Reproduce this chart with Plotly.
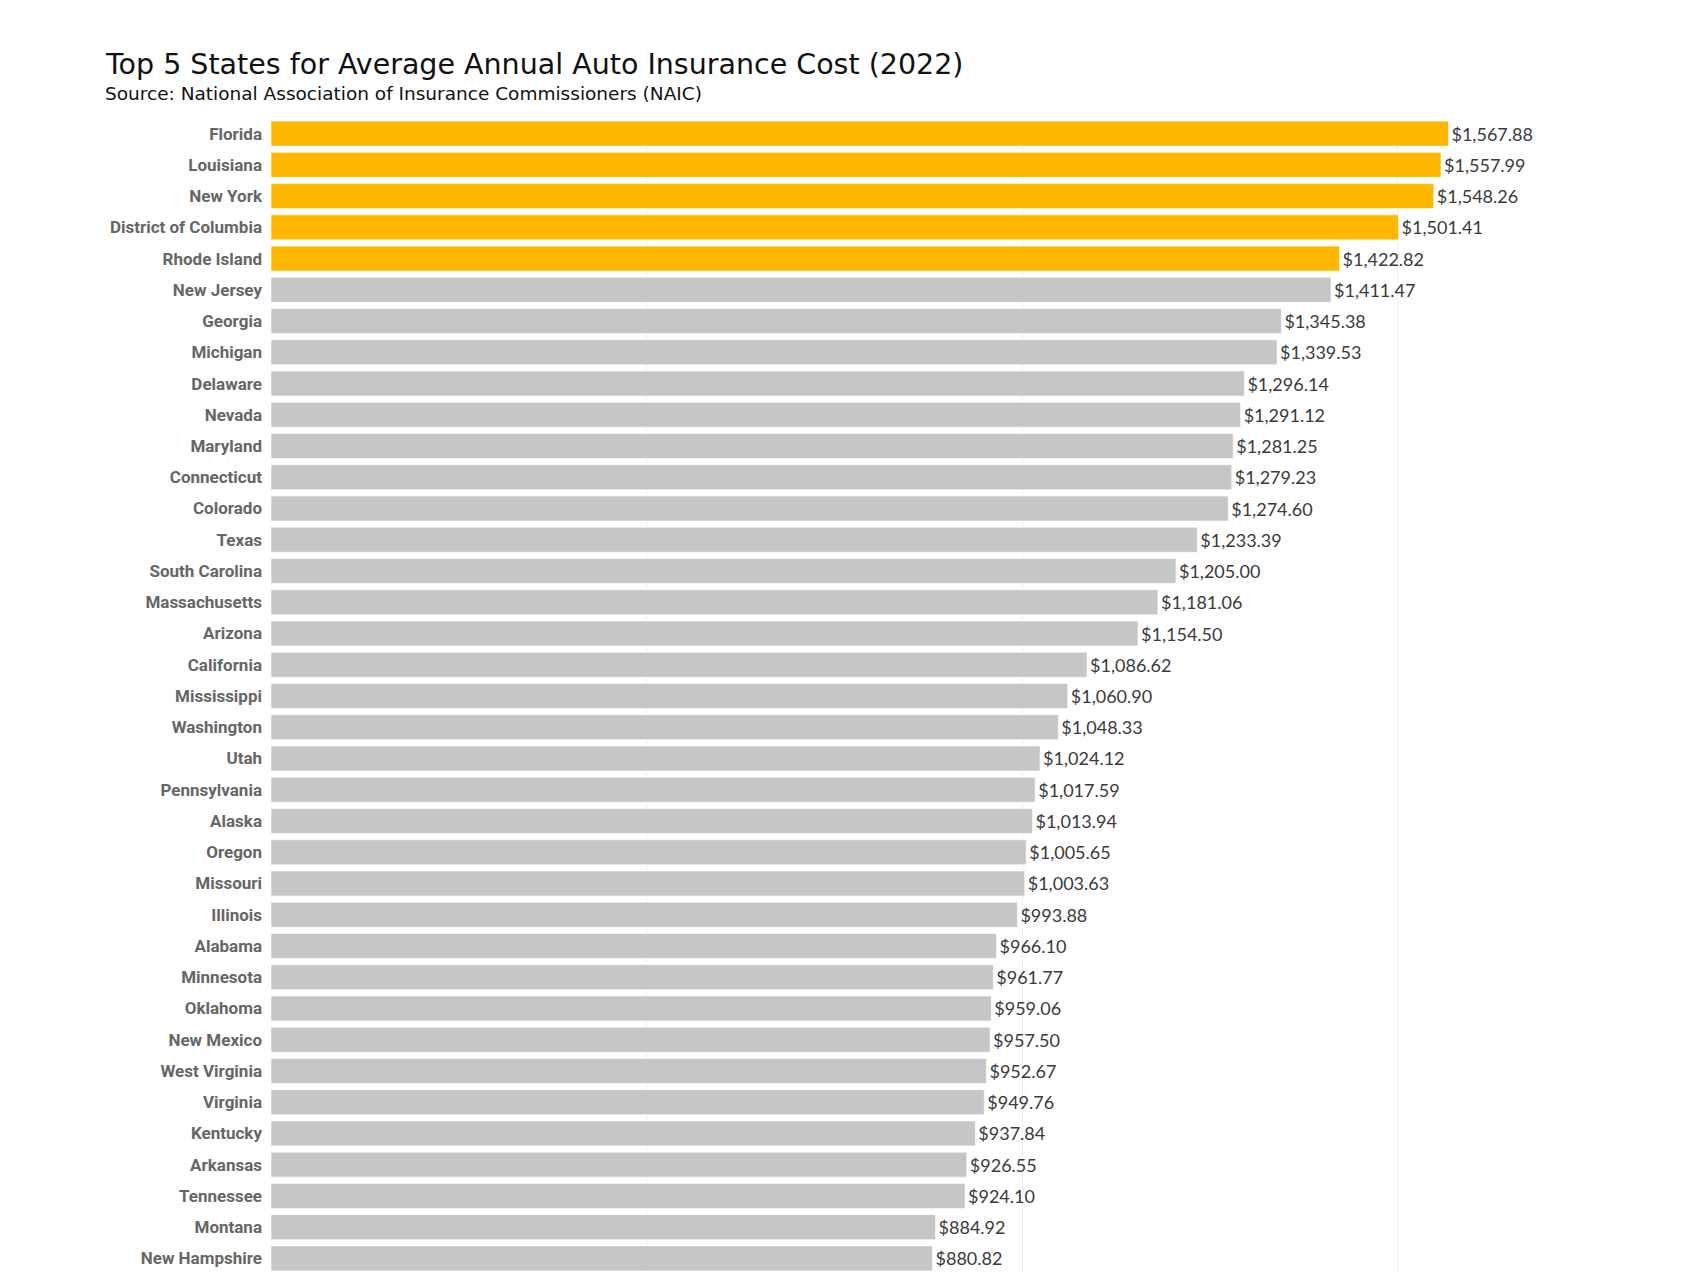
import plotly.graph_objects as go

states = ["Florida", "Louisiana", "New York", "District of Columbia", "Rhode Island",
          "New Jersey", "Georgia", "Michigan", "Delaware", "Nevada", "Maryland",
          "Connecticut", "Colorado", "Texas", "South Carolina", "Massachusetts",
          "Arizona", "California", "Mississippi", "Washington", "Utah", "Pennsylvania",
          "Alaska", "Oregon", "Missouri", "Illinois", "Alabama", "Minnesota",
          "Oklahoma", "New Mexico", "West Virginia", "Virginia", "Kentucky",
          "Arkansas", "Tennessee", "Montana", "New Hampshire"]
costs = [1567.88, 1557.99, 1548.26, 1501.41, 1422.82, 1411.47, 1345.38, 1339.53,
         1296.14, 1291.12, 1281.25, 1279.23, 1274.60, 1233.39, 1205.00, 1181.06,
         1154.50, 1086.62, 1060.90, 1048.33, 1024.12, 1017.59, 1013.94, 1005.65,
         1003.63, 993.88, 966.10, 961.77, 959.06, 957.50, 952.67, 949.76, 937.84,
         926.55, 924.10, 884.92, 880.82]
top_n = 5

title_text = "Top 5 States for Average Annual Auto Insurance Cost (2022)"
subtitle_text = "Source: National Association of Insurance Commissioners (NAIC)"

colors = ["#FFB800" if i < top_n else "#C6C6C6" for i in range(len(states))]
labels = [f"${v:,.2f}" for v in costs]

fig = go.Figure(go.Bar(
    x=costs, y=states, orientation="h",
    marker=dict(color=colors, line=dict(color="rgba(255,255,255,0.6)", width=1)),
    text=labels, textposition="outside", cliponaxis=False,
    textfont=dict(family="Lato", size=18, color="#3A3A3A"),
))

W, H = 1700, 1275
ml, mr, mt, mb = 263, 100, 110, 9
pw = W - ml - mr
ph = H - mt - mb

fig.update_layout(
    width=W, height=H,
    margin=dict(l=ml, r=mr, t=mt, b=mb, autoexpand=False),
    plot_bgcolor="white", paper_bgcolor="white",
    bargap=0.2,
    showlegend=False,
    xaxis=dict(range=[0, pw / 0.751], showgrid=True, gridcolor="#EFEFEF", gridwidth=1,
               showticklabels=False, zeroline=False, dtick=500, fixedrange=True),
    yaxis=dict(autorange="reversed", showgrid=False, ticks="",
               ticklabelstandoff=8,
               tickfont=dict(family="Roboto", size=17, color="#666666", weight="bold")),
    annotations=[
        dict(text=title_text, xref="paper", yref="paper",
             x=(95 - ml) / pw, y=1 + (mt - 75) / ph, xanchor="left", yanchor="bottom",
             showarrow=False, font=dict(family="DejaVu Sans", size=28.5, color="#111111")),
        dict(text=subtitle_text, xref="paper", yref="paper",
             x=(95 - ml) / pw, y=1 + (mt - 98) / ph, xanchor="left", yanchor="bottom",
             showarrow=False, font=dict(family="DejaVu Sans", size=18.5, color="#111111")),
    ],
)

fig.write_html("out.html")
